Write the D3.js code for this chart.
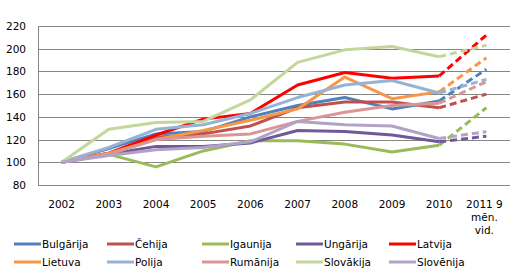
<!DOCTYPE html>
<html>
<head>
<meta charset="utf-8">
<script src="https://cdn.jsdelivr.net/npm/d3@7"></script>
<style>
  body { margin: 0; background: #fff; }
  svg text { font-family: "DejaVu Sans", Verdana, sans-serif; font-size: 10.5px; fill: #000; }
</style>
</head>
<body>
<div id="chart"></div>
<script>
// Categories (years) and tick labels
const years = ["2002", "2003", "2004", "2005", "2006", "2007", "2008", "2009", "2010", "2011"];
const yearLabels = [["2002"], ["2003"], ["2004"], ["2005"], ["2006"], ["2007"], ["2008"], ["2009"], ["2010"], ["2011 9", "mēn.", "vid."]];
const yTicks = [80, 100, 120, 140, 160, 180, 200, 220];

// Series names, colours and values (2002 = 100)
const names = ["Bulgārija", "Čehija", "Igaunija", "Ungārija", "Latvija", "Lietuva", "Polija", "Rumānija", "Slovākija", "Slovēnija"];
const colors = ["#4F81BD", "#C0504D", "#9BBB59", "#71589A", "#FF0000", "#F79646", "#95B3D7", "#D99694", "#C3D69B", "#B3A2C7"];
const bulgarija = [100, 112, 125, 127, 140, 150, 157, 147, 154, 182];
const cehija    = [100, 108, 122, 125, 132, 148, 153, 153, 148, 160];
const igaunija  = [100, 107, 96, 110, 119, 119, 116, 109, 115, 148];
const ungarija  = [100, 107, 114, 114, 117, 128, 127, 124, 118, 123];
const latvija   = [100, 108, 124, 138, 143, 168, 179, 174, 176, 212];
const lietuva   = [100, 108, 120, 128, 137, 147, 175, 156, 162, 192];
const polija    = [100, 113, 129, 133, 143, 157, 168, 172, 161, 173];
const rumanija  = [100, 107, 120, 123, 125, 136, 144, 150, 152, 171];
const slovakija = [100, 129, 135, 136, 155, 188, 199, 202, 193, 203];
const slovenija = [100, 106, 111, 113, 118, 136, 133, 132, 121, 127];
const seriesValues = [bulgarija, cehija, igaunija, ungarija, latvija, lietuva, polija, rumanija, slovakija, slovenija];

const width = 527, height = 274;
const margin = { top: 26, right: 17, bottom: 89, left: 38 };

const svg = d3.select("#chart")
    .append("svg")
    .attr("width", width)
    .attr("height", height);

const x = d3.scaleBand()
    .domain(years)
    .range([margin.left, width - margin.right]);

const y = d3.scaleLinear()
    .domain([80, 220])
    .range([height - margin.bottom, margin.top]);

// Gridlines
svg.append("g")
    .selectAll("line")
    .data(yTicks)
    .enter().append("line")
    .attr("x1", margin.left)
    .attr("x2", width - margin.right)
    .attr("y1", d => Math.round(y(d)) + 0.5)
    .attr("y2", d => Math.round(y(d)) + 0.5)
    .attr("stroke", "#868686")
    .attr("stroke-width", 1);

// Left axis line
svg.append("line")
    .attr("x1", margin.left + 0.5)
    .attr("x2", margin.left + 0.5)
    .attr("y1", Math.round(y(220)) + 0.5)
    .attr("y2", Math.round(y(80)) + 0.5)
    .attr("stroke", "#868686");

// Y axis labels
svg.append("g")
    .selectAll("text")
    .data(yTicks)
    .enter().append("text")
    .attr("x", 26)
    .attr("y", d => y(d) + 4)
    .attr("text-anchor", "end")
    .text(d => d);

// X axis labels (multi-line for the last one)
const xl = svg.append("g")
    .selectAll("text")
    .data(years)
    .enter().append("text")
    .attr("text-anchor", "middle")
    .attr("y", 208);
xl.selectAll("tspan")
    .data((d, i) => yearLabels[i].map(t => ({ t: t, x: x(d) + x.bandwidth() / 2 - (i === 9 ? 2 : 0) })))
    .enter().append("tspan")
    .attr("x", d => d.x)
    .attr("dy", (d, i) => i === 0 ? 0 : 13)
    .text(d => d.t);

const px = i => x(years[i]) + x.bandwidth() / 2;

// Lines: solid 2002-2010, dashed 2010-2011
const solid = d3.line().x((d, i) => px(i)).y(d => y(d));
seriesValues.forEach((vals, k) => {
    svg.append("path")
        .attr("d", solid(vals.slice(0, 9)))
        .attr("fill", "none")
        .attr("stroke", colors[k])
        .attr("stroke-width", 3)
        .attr("stroke-linejoin", "round");
});
seriesValues.forEach((vals, k) => {
    svg.append("path")
        .attr("d", d3.line().x((d, i) => px(i + 8)).y(d => y(d))(vals.slice(8, 10)))
        .attr("fill", "none")
        .attr("stroke", colors[k])
        .attr("stroke-width", 3)
        .attr("stroke-dasharray", "7,4");
});

// Legend
const legendCols = [14, 107, 202, 296, 389];
const legendRows = [244, 262];
const legend = svg.append("g")
    .selectAll("g")
    .data(names)
    .enter().append("g")
    .attr("transform", (d, i) => `translate(${legendCols[i % 5]},${legendRows[Math.floor(i / 5)]})`);
legend.append("line")
    .attr("x1", 0).attr("x2", 27)
    .attr("stroke", (d, i) => colors[i])
    .attr("stroke-width", 3);
legend.append("text")
    .attr("x", 28)
    .attr("y", 4)
    .text(d => d);
</script>
</body>
</html>
